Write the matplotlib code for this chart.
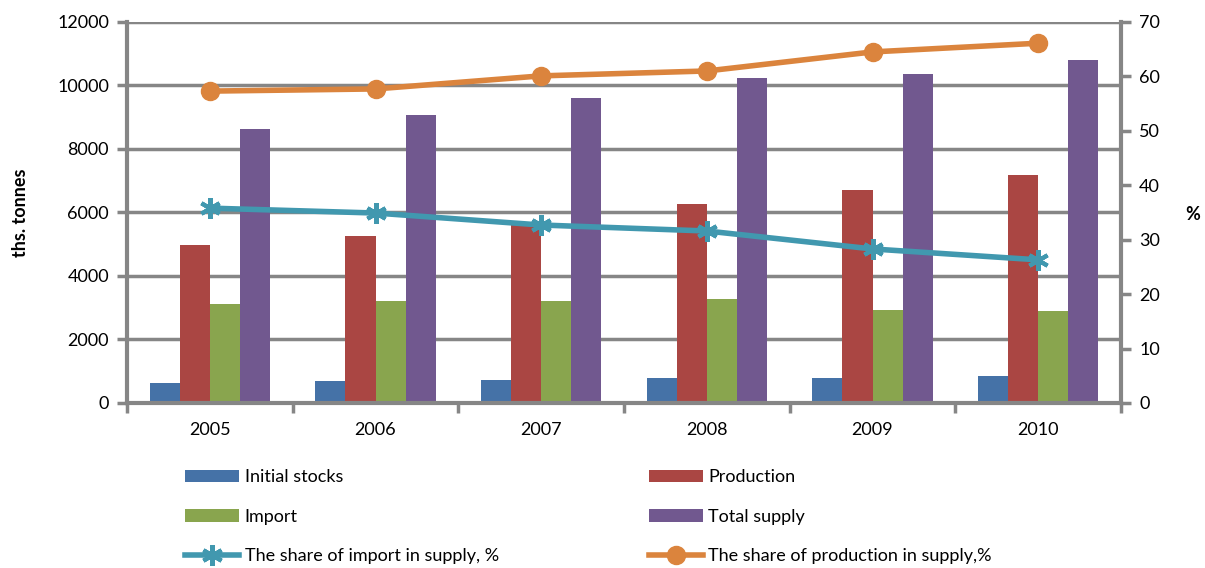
import matplotlib.pyplot as plt
import numpy as np

plt.rcParams['font.family'] = ['Lato', 'DejaVu Sans']

years = ['2005', '2006', '2007', '2008', '2009', '2010']
initial_stocks = [620, 680, 740, 790, 790, 840]
production = [4970, 5260, 5600, 6270, 6700, 7180]
imports = [3110, 3210, 3200, 3270, 2930, 2900]
total_supply = [8630, 9060, 9610, 10250, 10360, 10790]
share_import = [35.8, 34.9, 32.7, 31.6, 28.3, 26.3]
share_production = [57.3, 57.7, 60.1, 61.0, 64.5, 66.1]

grey = '#868686'
fig = plt.figure(figsize=(12.05, 5.68), dpi=100)
ax = fig.add_axes([0.1054, 0.2905, 0.8249, 0.6708])

x = np.arange(len(years))
w = 0.182
bar_series = [
    (initial_stocks, '#4572A7', 'Initial stocks'),
    (production, '#AA4643', 'Production'),
    (imports, '#89A54E', 'Import'),
    (total_supply, '#71588F', 'Total supply'),
]
bars = []
for i, (vals, col, lab) in enumerate(bar_series):
    b = ax.bar(x + (i - 1.5) * w, vals, w, color=col, label=lab, zorder=2)
    bars.append(b)

ax.set_xlim(-0.5, len(years) - 0.5)
ax.set_ylim(0, 12000)
ax.set_yticks(np.arange(0, 12001, 2000))
ax.set_xticks(x)
ax.set_xticklabels(years)
ax.set_xticks(np.arange(-0.5, len(years), 1), minor=True)
ax.tick_params(axis='x', which='major', length=0, pad=14, labelsize=13)
ax.tick_params(axis='x', which='minor', length=7, width=2.5, color=grey, direction='out')
ax.tick_params(axis='y', length=7, width=2.5, color=grey, labelsize=13, pad=6)
ax.yaxis.grid(True, color=grey, linewidth=2.5, zorder=0)
ax.set_axisbelow(True)
for s in ['left', 'bottom']:
    ax.spines[s].set_color(grey)
    ax.spines[s].set_linewidth(3)
ax.spines['top'].set_visible(False)
ax.spines['right'].set_visible(False)
ax.set_ylabel('ths. tonnes', fontsize=13, fontweight='bold', labelpad=20)

ax2 = ax.twinx()
ax2.set_ylim(0, 70)
ax2.set_yticks(np.arange(0, 71, 10))
ax2.tick_params(axis='y', length=7, width=2.5, color=grey, labelsize=13, pad=6)
ax2.spines['right'].set_color(grey)
ax2.spines['right'].set_linewidth(3)
for s in ['left', 'top', 'bottom']:
    ax2.spines[s].set_visible(False)
l1, = ax2.plot(x, share_import, color='#4198AF', linewidth=4, marker=(6, 2, 0),
               markersize=15, markeredgewidth=3, label='The share of import in supply, %')
l2, = ax2.plot(x, share_production, color='#DB843D', linewidth=4, marker='o',
               markersize=13, label='The share of production in supply,%')
fig.text(1193 / 1205, 1 - 215 / 568, '%', fontsize=13, fontweight='bold',
         ha='center', va='center')

handles = [bars[0], bars[2], l1, bars[1], bars[3], l2]
labels = [h.get_label() for h in handles]
fig.legend(handles, labels, ncol=2, loc='lower left', bbox_to_anchor=(0.14, -0.022),
           frameon=False, fontsize=13, columnspacing=8.3, labelspacing=1.3,
           handlelength=3.0, handletextpad=0.3)

fig.savefig('out.png', dpi=100)
